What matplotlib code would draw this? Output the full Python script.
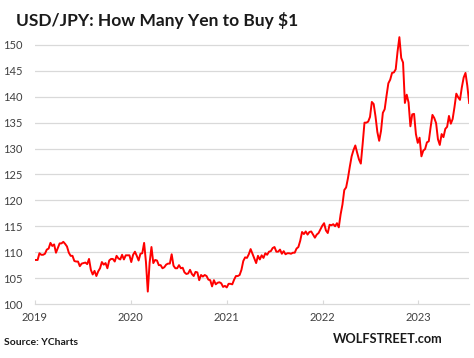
import matplotlib
matplotlib.use("Agg")
import matplotlib.pyplot as plt
import pandas as pd

# Weekly (Friday) USD/JPY readings
usd_jpy_2019 = [108.5, 108.5, 109.8, 109.5,
                109.5, 109.7, 110.5, 110.7,
                111.8, 111.2, 111.5, 109.9, 110.8,
                111.7, 111.7, 112.0, 111.6,
                111.1, 109.9, 109.3, 109.3, 108.3,
                108.2, 108.2, 107.3, 107.8,
                107.9, 108.0, 107.7, 108.7,
                106.6, 105.7, 106.4, 105.4, 106.3,
                106.9, 108.1, 107.6, 107.9,
                106.9, 108.4, 108.7, 108.7,
                108.2, 109.3, 108.8, 108.6, 109.5,
                108.6, 109.4, 109.4, 109.4]
usd_jpy_2020 = [108.1, 109.5, 110.1, 109.3, 108.4,
                109.7, 109.8, 111.8, 108.1,
                102.4, 108.0, 111.0, 107.9,
                108.5, 108.4, 107.5, 107.5,
                106.9, 107.1, 107.6, 107.8, 107.8,
                109.6, 107.4, 106.9, 106.9,
                107.5, 106.9, 107.0, 106.1, 105.8,
                105.9, 106.6, 105.8, 105.4,
                106.2, 106.1, 104.6, 105.6,
                105.3, 105.6, 105.4, 104.7, 104.6,
                103.4, 104.6, 103.8, 104.1,
                104.2, 104.0, 103.3, 103.5]
usd_jpy_2021 = [103.2, 103.9, 103.9, 103.8, 104.7,
                105.4, 105.4, 105.6, 106.6,
                108.3, 109.0, 108.9, 109.6,
                110.6, 109.7, 108.8, 107.9, 109.3,
                108.6, 109.4, 108.9, 109.8,
                109.5, 110.1, 110.2, 110.8,
                111.0, 110.1, 110.1, 110.5, 109.7,
                110.2, 109.6, 109.8, 109.8,
                109.7, 109.9, 109.9, 110.7,
                111.0, 112.2, 113.9, 113.5, 114.0,
                113.4, 113.9, 114.0, 113.4,
                112.8, 113.4, 113.7, 114.4, 115.1]
usd_jpy_2022 = [115.6, 114.2, 113.7, 115.3,
                115.2, 115.4, 115.0, 115.6,
                114.8, 117.3, 119.2, 122.0,
                122.5, 124.3, 126.5, 128.5, 129.7,
                130.6, 129.2, 127.9, 127.1,
                130.9, 135.0, 135.0, 135.2,
                136.1, 139.0, 138.6, 136.2, 133.2,
                131.5, 133.4, 136.9, 137.6,
                140.2, 142.6, 143.3, 144.6, 144.7,
                145.3, 148.7, 151.5, 147.5,
                146.6, 138.8, 140.4, 138.9,
                134.3, 136.6, 136.7, 132.8, 131.1]
usd_jpy_2023 = [132.1, 128.5, 129.6, 129.9,
                131.2, 131.4, 134.1, 136.5,
                135.9, 134.9, 131.8, 130.7, 132.8,
                132.2, 133.8, 134.2, 136.3,
                134.8, 135.7, 138.0, 140.6,
                139.9, 139.4, 141.8, 143.7, 144.6,
                142.1, 138.8]

values = usd_jpy_2019 + usd_jpy_2020 + usd_jpy_2021 + usd_jpy_2022 + usd_jpy_2023
dates = pd.date_range("2019-01-04", periods=len(values), freq="W-FRI")

y_ticks = [100, 105, 110, 115, 120, 125, 130, 135, 140, 145, 150]
x_tick_labels = ["2019", "2020", "2021", "2022", "2023"]

fig = plt.figure(figsize=(4.74, 3.58), dpi=100)
ax = fig.add_axes([0.0738, 0.1508, 0.916, 0.7526])

for y in y_ticks[1:]:
    ax.axhline(y, color="#d9d9d9", lw=0.9, zorder=0)

ax.plot(dates, values, color="#ff0000", lw=1.4, zorder=3)

ax.set_ylim(100, 152)
ax.set_xlim(pd.Timestamp("2019-01-01"), dates[-1])
ax.set_yticks(y_ticks)
ax.set_yticklabels([str(v) for v in y_ticks])
xt = [pd.Timestamp(f"{y}-01-01") for y in x_tick_labels]
ax.set_xticks(xt)
ax.set_xticklabels(x_tick_labels)

for s in ["top", "right", "left"]:
    ax.spines[s].set_visible(False)
ax.spines["bottom"].set_color("#d9d9d9")
ax.spines["bottom"].set_linewidth(0.9)
ax.tick_params(axis="y", length=0, pad=9, labelsize=8, labelcolor="#404040")
ax.tick_params(axis="x", direction="in", length=3, color="#d9d9d9",
               pad=6, labelsize=8, labelcolor="#404040")
for lab in ax.get_xticklabels() + ax.get_yticklabels():
    lab.set_fontfamily("Lato")

fig.text(0.034, 0.944, "USD/JPY: How Many Yen to Buy \\$1", fontsize=12.5,
         fontweight="bold", family="Lato", color="#1a1a1a", va="center", ha="left")
fig.text(0.008, 0.042, "Source: YCharts", fontsize=7.5, fontweight="bold",
         family="Lato", color="#1a1a1a", va="center", ha="left")
fig.text(0.703, 0.053, "WOLFSTREET.com", fontsize=9.2, fontweight="bold",
         family="Lato", color="#1a1a1a", va="center", ha="left")

fig.savefig("out.png", dpi=100)
